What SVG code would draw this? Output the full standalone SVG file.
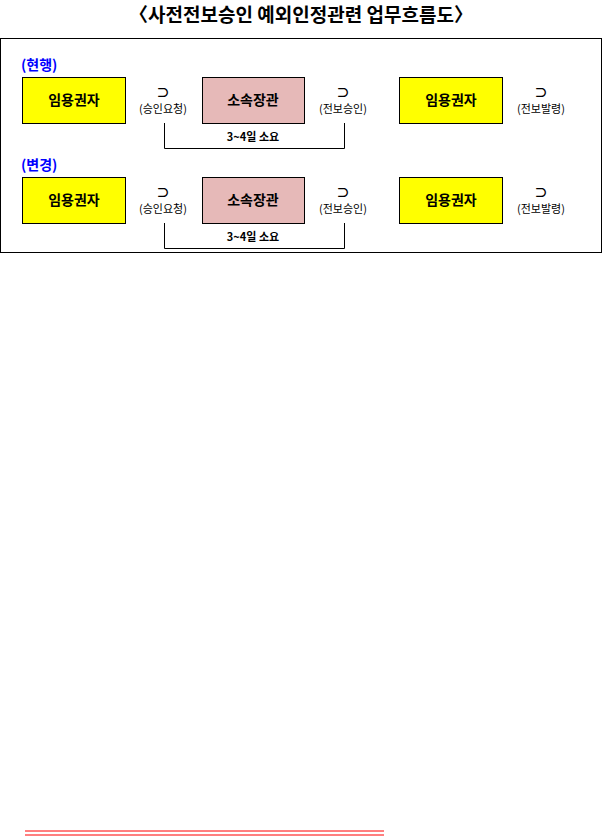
<svg xmlns="http://www.w3.org/2000/svg" width="603" height="836" viewBox="0 0 603 836">
<style>
text{font-family:"Noto Sans CJK KR","Noto Sans",sans-serif}
.y{fill:#ffff00;stroke:#000;stroke-width:1}
.p{fill:#e6b9b8;stroke:#000;stroke-width:1}
.bt{font-size:14px;font-weight:bold;text-anchor:middle}
.sm{font-size:11px;text-anchor:middle}
.ar{font-size:13px;font-weight:bold;text-anchor:middle}
.hd{font-size:14px;font-weight:bold;fill:#0000ff}
.br{fill:none;stroke:#000;stroke-width:1}
</style>
<rect width="603" height="836" fill="#fff"/>
<text x="301" y="22" font-size="19" font-weight="bold" text-anchor="middle">〈사전전보승인 예외인정관련 업무흐름도〉</text>
<rect x="0.5" y="38.5" width="601" height="214" fill="none" stroke="#000"/>
<text class="hd" x="21" y="70">(현행)</text>
<text class="hd" x="21" y="170">(변경)</text>
<g id="r1a"><rect class="y" x="22.5" y="77.5" width="103" height="46"/><text class="bt" x="74" y="105">임용권자</text></g>
<g id="r1b"><rect class="p" x="202.5" y="77.5" width="102" height="46"/><text class="bt" x="253" y="105">소속장관</text></g>
<g id="r1c"><rect class="y" x="399.5" y="77.5" width="103" height="46"/><text class="bt" x="451" y="105">임용권자</text></g>
<g id="r2a"><rect class="y" x="22.5" y="177.5" width="103" height="46"/><text class="bt" x="74" y="205">임용권자</text></g>
<g id="r2b"><rect class="p" x="202.5" y="177.5" width="102" height="46"/><text class="bt" x="253" y="205">소속장관</text></g>
<g id="r2c"><rect class="y" x="399.5" y="177.5" width="103" height="46"/><text class="bt" x="451" y="205">임용권자</text></g>
<g id="connectors">
<text class="ar" x="163" y="97">⊃</text><text class="sm" x="163" y="113">(승인요청)</text>
<text class="ar" x="343" y="97">⊃</text><text class="sm" x="343" y="113">(전보승인)</text>
<text class="ar" x="541" y="97">⊃</text><text class="sm" x="541" y="113">(전보발령)</text>
<text class="ar" x="163" y="197">⊃</text><text class="sm" x="163" y="213">(승인요청)</text>
<text class="ar" x="343" y="197">⊃</text><text class="sm" x="343" y="213">(전보승인)</text>
<text class="ar" x="541" y="197">⊃</text><text class="sm" x="541" y="213">(전보발령)</text>
<path class="br" d="M164.5 123V148.5H344.5V123"/>
<path class="br" d="M164.5 223V248.5H344.5V223"/>
<text class="sm" x="253" y="141" font-weight="bold">3~4일 소요</text>
<text class="sm" x="253" y="241" font-weight="bold">3~4일 소요</text>
</g>
<line x1="25" y1="831" x2="384" y2="831" stroke="#f00"/>
<line x1="25" y1="835" x2="384" y2="835" stroke="#f00"/>
</svg>
